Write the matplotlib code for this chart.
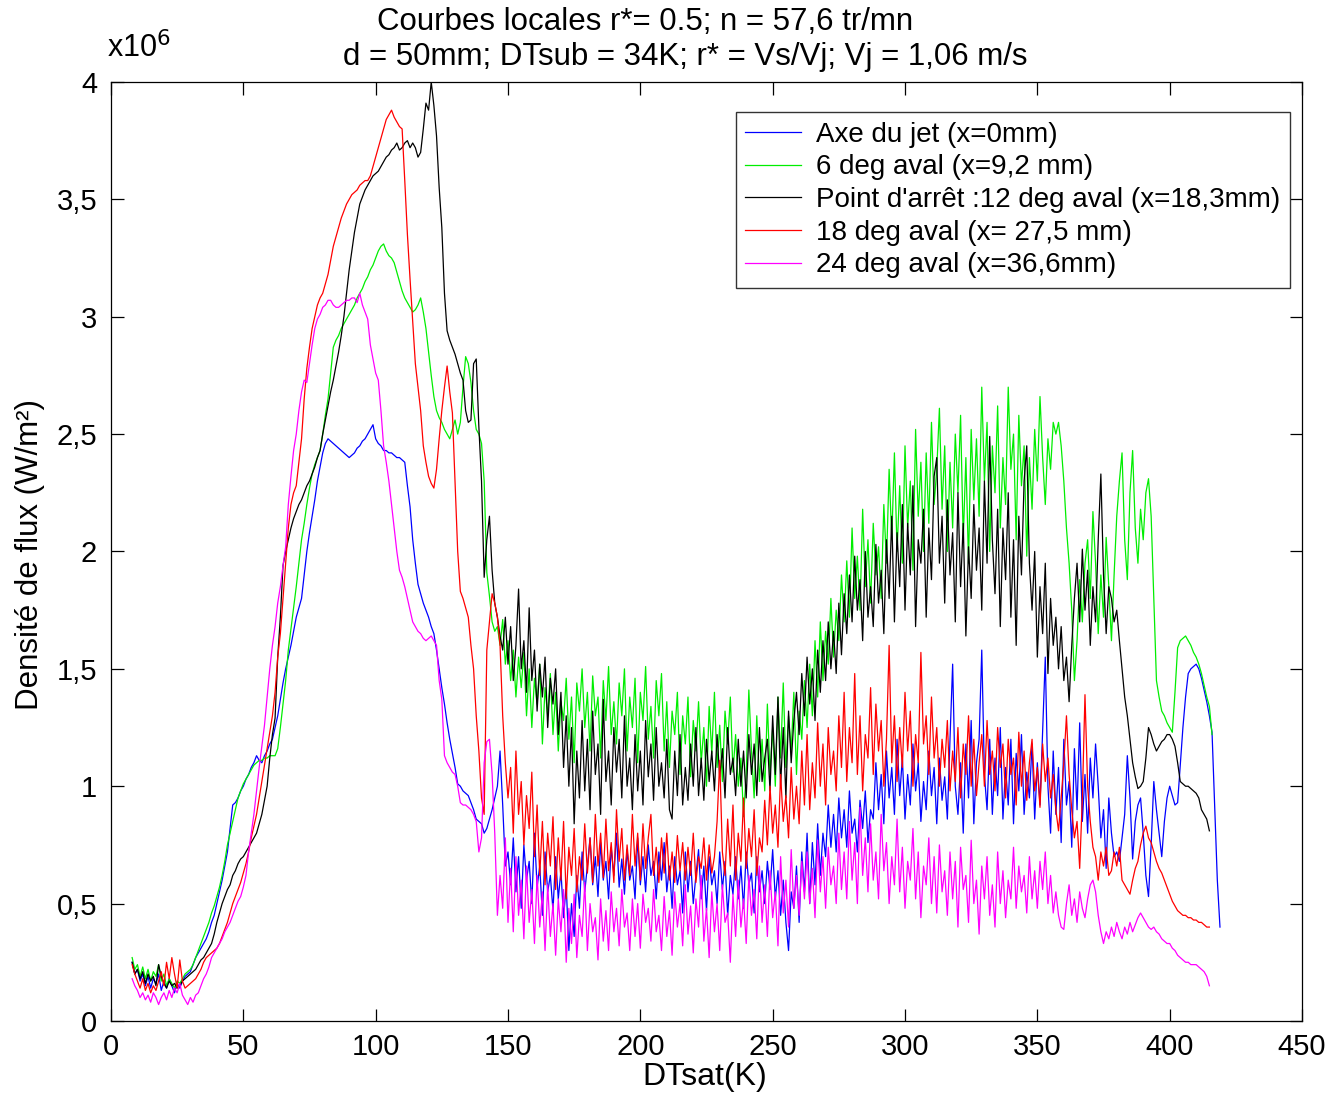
from matplotlib import pyplot as plt
import numpy as np

# Heat flux density (x10^6 W/m2) sampled every 1 K of wall superheat, starting at DTsat = 8 K
x_start = 8

blue = [
    0.25, 0.20, 0.22, 0.17, 0.20, 0.15, 0.19, 0.14, 0.18, 0.16,
    0.20, 0.13, 0.17, 0.14, 0.18, 0.15, 0.12, 0.16, 0.14, 0.17,
    0.19, 0.20, 0.21, 0.24, 0.27, 0.29, 0.31, 0.33, 0.35, 0.38,
    0.42, 0.45, 0.50, 0.55, 0.60, 0.66, 0.72, 0.82, 0.92, 0.93,
    0.95, 0.98, 1.00, 1.03, 1.05, 1.08, 1.10, 1.13, 1.11, 1.10,
    1.13, 1.15, 1.18, 1.20, 1.25, 1.30, 1.37, 1.44, 1.50, 1.55,
    1.60, 1.66, 1.72, 1.76, 1.80, 1.90, 2.00, 2.08, 2.15, 2.22,
    2.30, 2.36, 2.42, 2.46, 2.48, 2.47, 2.46, 2.45, 2.44, 2.43,
    2.42, 2.41, 2.40, 2.41, 2.42, 2.44, 2.45, 2.47, 2.48, 2.50,
    2.52, 2.54, 2.48, 2.46, 2.45, 2.43, 2.43, 2.42, 2.42, 2.41,
    2.40, 2.40, 2.39, 2.38, 2.28, 2.19, 2.05, 1.95, 1.86, 1.82,
    1.78, 1.75, 1.72, 1.68, 1.65, 1.58, 1.50, 1.42, 1.35, 1.27,
    1.20, 1.14, 1.08, 1.01, 1.00, 0.98, 0.97, 0.96, 0.93, 0.90,
    0.86, 0.85, 0.84, 0.80, 0.82, 0.86, 0.90, 0.95, 1.00, 1.15,
    0.92, 0.66, 0.72, 0.58, 0.78, 0.55, 0.70, 0.48, 0.75, 0.60,
    0.68, 0.50, 0.80, 0.57, 0.66, 0.45, 0.72, 0.55, 0.62, 0.47,
    0.70, 0.52, 0.64, 0.44, 0.58, 0.30, 0.50, 0.36, 0.62, 0.48,
    0.72, 0.55, 0.66, 0.78, 0.58, 0.70, 0.53, 0.76, 0.60, 0.68,
    0.52, 0.74, 0.62, 0.80, 0.57, 0.69, 0.54, 0.73, 0.60, 0.66,
    0.52, 0.78, 0.58, 0.70, 0.55, 0.75, 0.62, 0.68, 0.52, 0.72,
    0.60, 0.76, 0.55, 0.66, 0.48, 0.70, 0.58, 0.64, 0.46, 0.72,
    0.55, 0.68, 0.50, 0.62, 0.73, 0.52, 0.66, 0.47, 0.70, 0.58,
    0.64, 0.50, 0.72, 0.56, 0.68, 0.45, 0.62, 0.54, 0.70, 0.52,
    0.66, 0.48, 0.72, 0.58, 0.63, 0.46, 0.70, 0.55, 0.64, 0.50,
    0.68, 0.56, 0.73, 0.52, 0.64, 0.45, 0.60, 0.42, 0.30, 0.55,
    0.48, 0.66, 0.42, 0.72, 0.55, 0.80, 0.50, 0.76, 0.58, 0.84,
    0.62, 0.80, 0.70, 0.92, 0.74, 0.88, 0.72, 0.95, 0.78, 0.90,
    0.74, 0.98, 0.80, 0.86, 0.72, 0.94, 0.82, 0.98, 0.76, 0.90,
    0.86, 1.10, 0.90, 1.05, 0.84, 1.15, 0.95, 1.08, 0.88, 1.20,
    0.96, 1.12, 0.86, 1.05, 0.92, 1.18, 0.98, 1.10, 0.85, 1.02,
    0.90, 1.15, 0.96, 1.08, 0.84, 1.12, 0.94, 1.04, 0.86, 1.20,
    1.52, 1.00, 0.88, 1.10, 0.80, 1.18, 0.95, 1.28, 0.84, 1.10,
    1.20, 1.58, 1.05, 0.90, 1.20, 0.88, 1.12, 0.96, 1.25, 0.86,
    1.08, 0.92, 1.20, 0.84, 1.14, 0.98, 1.22, 0.88, 1.06, 0.95,
    1.18, 0.86, 1.10, 0.92, 1.24, 1.55, 1.00, 0.80, 1.15, 0.88,
    1.08, 0.76, 1.20, 0.92, 1.02, 0.74, 1.16, 0.90, 1.27, 0.85,
    1.05, 0.80, 1.12, 0.95, 1.18, 1.00, 0.78, 0.90, 0.65, 0.95,
    0.80, 0.70, 0.72, 0.68, 0.78, 0.88, 1.13, 0.95, 0.69, 0.85,
    0.92, 0.95, 0.80, 0.62, 0.53, 0.75, 1.02, 0.90, 0.80, 0.70,
    0.85, 0.95, 1.00, 0.96, 0.92, 0.93, 1.09, 1.25, 1.38, 1.48,
    1.50, 1.51, 1.52, 1.50, 1.46, 1.41, 1.36, 1.30, 1.23, 0.92,
    0.60, 0.40,
]

green = [
    0.27, 0.22, 0.24, 0.19, 0.23, 0.18, 0.22, 0.17, 0.21, 0.19,
    0.24, 0.17, 0.20, 0.15, 0.18, 0.16, 0.14, 0.17, 0.16, 0.18,
    0.20, 0.21, 0.22, 0.24, 0.27, 0.30, 0.33, 0.36, 0.39, 0.42,
    0.46, 0.49, 0.53, 0.57, 0.62, 0.68, 0.75, 0.80, 0.85, 0.90,
    0.95, 0.98, 1.01, 1.03, 1.05, 1.07, 1.09, 1.10, 1.11, 1.11,
    1.12, 1.12, 1.13, 1.13, 1.13, 1.16, 1.25, 1.35, 1.45, 1.58,
    1.67, 1.76, 1.85, 1.95, 2.05, 2.12, 2.20, 2.27, 2.33, 2.37,
    2.40, 2.43, 2.50, 2.58, 2.65, 2.76, 2.87, 2.90, 2.92, 2.95,
    2.97, 2.99, 3.01, 3.03, 3.05, 3.08, 3.10, 3.12, 3.15, 3.17,
    3.20, 3.22, 3.25, 3.28, 3.30, 3.31, 3.28, 3.26, 3.25, 3.23,
    3.19, 3.15, 3.11, 3.08, 3.06, 3.04, 3.02, 3.03, 3.05, 3.08,
    3.02, 2.95, 2.85, 2.75, 2.66, 2.60, 2.57, 2.55, 2.52, 2.50,
    2.48, 2.52, 2.56, 2.50, 2.55, 2.70, 2.83, 2.80, 2.72, 2.60,
    2.52, 2.50, 2.46, 2.30, 1.91, 1.81, 1.70, 1.66, 1.68, 1.60,
    1.71, 1.52, 1.62, 1.45, 1.58, 1.38, 1.55, 1.42, 1.57, 1.30,
    1.50, 1.25, 1.46, 1.35, 1.52, 1.18, 1.42, 1.30, 1.48, 1.22,
    1.40, 1.15, 1.36, 1.28, 1.46, 1.20, 1.38, 1.10, 1.44, 1.32,
    1.50, 1.25, 1.40, 1.15, 1.47, 1.30, 1.38, 1.12, 1.45, 1.28,
    1.51, 1.22, 1.36, 1.18, 1.44, 1.30, 1.50, 1.15, 1.38, 1.25,
    1.46, 1.10, 1.40, 1.28, 1.51, 1.20, 1.34, 1.12, 1.45, 1.30,
    1.48, 1.15, 1.36, 1.08, 1.32, 1.22, 1.40, 1.05, 1.30, 1.18,
    1.38, 1.04, 1.28, 1.15, 1.36, 1.10, 1.25, 1.00, 1.34, 1.14,
    1.40, 1.08, 1.26, 1.02, 1.32, 1.18, 1.38, 1.06, 1.22, 1.00,
    1.12, 0.87, 1.05, 1.41, 1.15, 0.95, 1.30, 1.02, 1.20, 0.98,
    1.35, 1.05, 1.25, 1.00, 1.38, 1.12, 1.44, 1.08, 1.30, 1.15,
    1.40, 1.05, 1.32, 1.20, 1.45, 1.25, 1.52, 1.30, 1.62, 1.38,
    1.70, 1.45, 1.66, 1.52, 1.80, 1.55, 1.75, 1.62, 1.90, 1.70,
    1.96, 1.72, 2.10, 1.80, 1.98, 1.75, 2.18, 1.85, 2.05, 1.78,
    2.12, 1.90, 2.02, 1.80, 2.20, 1.95, 2.35, 2.05, 2.42, 2.00,
    2.28, 1.95, 2.45, 2.10, 2.30, 1.92, 2.52, 2.15, 2.38, 2.00,
    2.42, 2.12, 2.55, 2.20, 2.35, 2.61, 2.18, 2.45, 2.00, 2.38,
    2.10, 2.50, 2.25, 2.58, 2.05, 2.40, 1.95, 2.52, 2.22, 2.48,
    2.15, 2.70, 2.30, 2.55, 2.00, 2.45, 2.25, 2.62, 2.10, 2.40,
    2.20, 2.70, 2.35, 2.50, 2.05, 2.58, 2.28, 2.45, 1.98, 2.40,
    2.18, 2.52, 2.30, 2.66, 2.40, 2.20, 2.48, 2.35, 2.55, 2.50,
    2.55, 2.45, 2.30, 2.10, 1.95, 1.75, 1.45, 1.62, 1.88, 1.70,
    1.95, 2.05, 1.80, 2.17, 1.95, 1.65, 1.90, 1.72, 2.06, 1.85,
    1.62, 1.90, 2.15, 2.30, 2.42, 2.05, 1.88, 2.25, 2.43, 2.10,
    1.95, 2.18, 2.05, 2.25, 2.31, 2.15, 1.80, 1.45, 1.38, 1.32,
    1.30, 1.27, 1.25, 1.23, 1.40, 1.59, 1.62, 1.63, 1.64, 1.62,
    1.60, 1.57, 1.55, 1.52, 1.48, 1.43, 1.38, 1.34, 1.22,
]

black = [
    0.25, 0.20, 0.22, 0.18, 0.21, 0.16, 0.20, 0.17, 0.19, 0.15,
    0.24, 0.19, 0.16, 0.14, 0.17, 0.15, 0.16, 0.14, 0.15, 0.17,
    0.18, 0.19, 0.20, 0.21, 0.22, 0.24, 0.26, 0.27, 0.29, 0.31,
    0.33, 0.37, 0.42, 0.46, 0.50, 0.53, 0.56, 0.58, 0.62, 0.64,
    0.67, 0.69, 0.70, 0.72, 0.74, 0.76, 0.78, 0.80, 0.84, 0.88,
    0.94, 1.00, 1.12, 1.22, 1.29, 1.55, 1.72, 1.94, 2.00, 2.05,
    2.10, 2.14, 2.17, 2.20, 2.22, 2.25, 2.28, 2.30, 2.33, 2.36,
    2.40, 2.43, 2.50, 2.56, 2.62, 2.68, 2.73, 2.79, 2.85, 2.92,
    3.00, 3.10, 3.20, 3.28, 3.36, 3.42, 3.48, 3.51, 3.54, 3.56,
    3.58, 3.60, 3.61, 3.62, 3.64, 3.66, 3.68, 3.69, 3.71, 3.72,
    3.74, 3.71, 3.72, 3.74, 3.75, 3.72, 3.74, 3.72, 3.68, 3.70,
    3.80, 3.91, 3.88, 4.00, 3.90, 3.77, 3.55, 3.38, 3.10, 2.94,
    2.90, 2.87, 2.84, 2.80, 2.76, 2.73, 2.60, 2.55, 2.56, 2.80,
    2.82, 2.53, 2.30, 1.89, 2.05, 2.15, 1.92, 1.78, 1.72, 1.64,
    1.58, 1.72, 1.52, 1.68, 1.45, 1.60, 1.84, 1.50, 1.62, 1.40,
    1.76, 1.45, 1.58, 1.32, 1.52, 1.38, 1.55, 1.25, 1.46, 1.35,
    1.50, 1.22, 1.40, 1.08, 1.30, 1.00, 1.25, 0.84, 1.15, 0.95,
    1.28, 0.98, 1.20, 0.90, 1.32, 1.05, 1.18, 0.88, 1.37, 1.02,
    1.15, 0.92, 1.25, 1.06, 1.20, 0.95, 1.30, 1.00, 1.12, 0.90,
    1.22, 0.98, 1.15, 0.92, 1.28, 1.04, 1.18, 0.94, 1.25, 1.00,
    1.10, 0.95, 1.20, 0.90, 0.86, 1.15, 0.96, 1.22, 0.92, 1.08,
    0.94, 1.18, 1.00, 1.25, 0.96, 1.12, 0.94, 1.20, 1.02, 1.15,
    0.98, 1.22, 1.04, 1.16, 0.95, 1.25, 1.05, 1.12, 0.96, 1.20,
    1.00, 1.15, 0.95, 1.22, 1.05, 1.18, 0.96, 1.25, 1.02, 1.12,
    1.20, 0.98, 1.30, 1.05, 1.38, 1.00, 1.25, 0.95, 1.32, 1.10,
    1.28, 1.40, 1.22, 1.48, 1.30, 1.55, 1.35, 1.50, 1.28, 1.58,
    1.40, 1.62, 1.45, 1.70, 1.50, 1.66, 1.48, 1.78, 1.56, 1.82,
    1.65, 1.90, 1.70, 1.98, 1.75, 1.88, 1.62, 2.00, 1.72, 1.85,
    1.68, 2.03, 1.78, 1.92, 1.65, 2.05, 1.80, 2.15, 1.70, 2.08,
    1.85, 2.20, 1.75, 2.12, 1.90, 2.28, 1.68, 2.05, 1.95, 2.18,
    1.72, 2.10, 1.88, 2.32, 2.40, 1.95, 2.15, 1.78, 2.22, 1.90,
    2.08, 1.70, 2.25, 1.85, 2.12, 1.64, 2.02, 1.80, 2.20, 1.92,
    2.10, 1.75, 2.30, 1.95, 2.49, 2.05, 1.82, 2.18, 1.68, 2.10,
    1.88, 2.25, 1.72, 2.05, 1.60, 2.15, 1.90, 2.30, 2.45, 1.95,
    1.75, 2.00, 1.55, 1.85, 1.65, 1.95, 1.48, 1.80, 1.60, 1.72,
    1.50, 1.68, 1.45, 1.55, 1.36, 1.60, 1.80, 1.95, 1.70, 2.01,
    1.75, 1.92, 1.60, 1.85, 1.70, 2.05, 2.33, 1.90, 1.65, 1.85,
    1.80, 1.70, 1.75, 1.62, 1.50, 1.38, 1.30, 1.20, 1.10, 1.04,
    0.99, 1.00, 1.02, 1.12, 1.25, 1.22, 1.18, 1.15, 1.17, 1.19,
    1.20, 1.22, 1.22, 1.20, 1.17, 1.10, 1.02, 1.01, 1.00, 1.00,
    0.99, 0.98, 0.97, 0.95, 0.90, 0.88, 0.86, 0.81,
]

red = [
    0.24, 0.20, 0.17, 0.14, 0.18, 0.13, 0.16, 0.12, 0.15, 0.13,
    0.17, 0.21, 0.15, 0.25, 0.18, 0.27, 0.20, 0.14, 0.26, 0.17,
    0.14, 0.15, 0.16, 0.17, 0.18, 0.20, 0.22, 0.25, 0.27, 0.28,
    0.29, 0.30, 0.31, 0.33, 0.36, 0.39, 0.42, 0.46, 0.50, 0.53,
    0.56, 0.59, 0.63, 0.67, 0.72, 0.78, 0.83, 0.88, 0.95, 1.02,
    1.09, 1.16, 1.23, 1.30, 1.40, 1.55, 1.65, 1.80, 1.95, 2.10,
    2.20, 2.25, 2.28, 2.38, 2.48, 2.65, 2.78, 2.87, 2.95, 3.00,
    3.05, 3.08, 3.10, 3.14, 3.18, 3.24, 3.30, 3.34, 3.38, 3.42,
    3.45, 3.48, 3.50, 3.52, 3.53, 3.54, 3.56, 3.57, 3.58, 3.58,
    3.60, 3.64, 3.68, 3.72, 3.76, 3.80, 3.84, 3.86, 3.88, 3.85,
    3.83, 3.81, 3.80, 3.58, 3.35, 3.16, 2.98, 2.80, 2.70, 2.60,
    2.45, 2.38, 2.32, 2.29, 2.27, 2.35, 2.48, 2.60, 2.70, 2.79,
    2.68, 2.59, 2.30, 2.00, 1.83, 1.80, 1.76, 1.72, 1.60, 1.50,
    1.30, 1.15, 0.95, 0.88, 1.58, 1.70, 1.82, 1.78, 1.72, 1.60,
    1.30, 1.10, 0.95, 1.08, 0.80, 1.15, 0.88, 1.02, 0.75, 0.96,
    0.82, 1.06, 0.70, 0.92, 0.62, 0.85, 0.58, 0.80, 0.66, 0.87,
    0.56, 0.78, 0.60, 0.85, 0.52, 0.74, 0.62, 0.82, 0.55, 0.70,
    0.60, 0.84, 0.63, 0.78, 0.59, 0.88, 0.66, 0.80, 0.61, 0.86,
    0.64, 0.76, 0.59, 0.90, 0.68, 0.82, 0.60, 0.75, 0.62, 0.88,
    0.66, 0.80, 0.60, 0.84, 0.65, 0.78, 0.88, 0.62, 0.74, 0.59,
    0.78, 0.63, 0.80, 0.60, 0.72, 0.59, 0.79, 0.64, 0.76, 0.60,
    0.74, 0.62, 0.80, 0.59, 0.70, 0.65, 0.78, 0.60, 0.75, 0.63,
    0.70, 0.85, 1.11, 0.72, 0.62, 0.86, 0.66, 0.92, 0.60, 0.80,
    0.68, 0.95, 0.65, 0.82, 0.70, 0.90, 0.62, 0.78, 0.72, 0.94,
    0.75, 1.00, 0.80, 0.92, 0.74, 1.05, 0.85, 0.96, 0.78, 1.08,
    0.86, 1.00, 0.84, 1.15, 0.92, 1.22, 0.90, 1.10, 0.95, 1.27,
    1.00, 1.18, 0.92, 1.25, 1.05, 1.15, 0.98, 1.30, 1.08, 1.40,
    1.02, 1.25, 1.10, 1.48, 1.05, 1.30, 0.98, 1.22, 1.12, 1.42,
    1.05, 1.35, 1.15, 1.28, 1.00, 1.20, 1.60, 1.10, 1.30, 1.02,
    1.25, 1.08, 1.40, 1.15, 1.32, 1.00, 1.22, 1.10, 1.57, 1.18,
    1.30, 1.05, 1.38, 1.12, 1.25, 1.00, 1.20, 1.08, 1.28, 0.98,
    1.15, 1.02, 1.25, 0.95, 1.18, 1.05, 1.30, 1.00, 1.20, 0.96,
    1.10, 1.22, 1.00, 1.28, 1.05, 1.15, 0.98, 1.25, 1.08, 1.18,
    0.95, 1.20, 1.05, 1.12, 0.92, 1.23, 1.00, 1.15, 0.94, 1.10,
    1.20, 0.98, 1.08, 0.91, 1.18, 1.02, 1.12, 0.95, 1.05, 0.90,
    0.81, 0.95, 1.10, 1.30, 1.05, 0.90, 0.78, 0.85, 0.65, 0.95,
    1.39, 1.00, 0.85, 0.74, 0.70, 0.60, 0.72, 0.66, 0.74, 0.62,
    0.64, 0.72, 0.66, 0.74, 0.60, 0.58, 0.56, 0.54, 0.60, 0.65,
    0.68, 0.75, 0.80, 0.83, 0.78, 0.76, 0.72, 0.68, 0.65, 0.63,
    0.60, 0.57, 0.54, 0.51, 0.49, 0.47, 0.46, 0.45, 0.45, 0.44,
    0.44, 0.43, 0.43, 0.42, 0.42, 0.41, 0.40, 0.40,
]

magenta = [
    0.18, 0.15, 0.13, 0.10, 0.12, 0.09, 0.11, 0.08, 0.12, 0.10,
    0.07, 0.10, 0.12, 0.09, 0.13, 0.10, 0.14, 0.12, 0.16, 0.11,
    0.09, 0.07, 0.10, 0.08, 0.11, 0.12, 0.15, 0.18, 0.20, 0.23,
    0.27, 0.29, 0.31, 0.33, 0.35, 0.38, 0.40, 0.42, 0.45, 0.48,
    0.51, 0.53, 0.57, 0.62, 0.72, 0.80, 0.88, 0.98, 1.08, 1.17,
    1.26, 1.38, 1.50, 1.60, 1.68, 1.78, 1.85, 1.94, 2.02, 2.20,
    2.32, 2.43, 2.50, 2.60, 2.68, 2.73, 2.72, 2.80, 2.88, 2.95,
    2.99, 3.01, 3.04, 3.05, 3.07, 3.07, 3.05, 3.04, 3.04, 3.05,
    3.06, 3.07, 3.07, 3.08, 3.08, 3.06, 3.10, 3.05, 3.02, 2.99,
    2.88, 2.82, 2.76, 2.73, 2.60, 2.45, 2.38, 2.30, 2.20, 2.10,
    2.00, 1.92, 1.89, 1.85, 1.80, 1.75, 1.70, 1.68, 1.66, 1.65,
    1.63, 1.62, 1.63, 1.64, 1.62, 1.60, 1.45, 1.37, 1.13, 1.10,
    1.08, 1.06, 1.05, 1.00, 0.93, 0.92, 0.92, 0.91, 0.90, 0.88,
    0.85, 0.72, 0.78, 1.10, 1.19, 1.20, 1.05, 0.80, 0.45, 0.62,
    0.48, 0.78, 0.42, 0.65, 0.38, 0.70, 0.45, 0.60, 0.35, 0.66,
    0.42, 0.56, 0.33, 0.62, 0.40, 0.55, 0.30, 0.58, 0.36, 0.50,
    0.28, 0.52, 0.38, 0.56, 0.25, 0.48, 0.33, 0.54, 0.27, 0.45,
    0.36, 0.59, 0.30, 0.50, 0.38, 0.44, 0.26, 0.52, 0.34, 0.47,
    0.30, 0.55, 0.38, 0.48, 0.32, 0.56, 0.40, 0.46, 0.30, 0.52,
    0.36, 0.50, 0.31, 0.54, 0.42, 0.48, 0.34, 0.56, 0.38, 0.45,
    0.30, 0.53, 0.36, 0.47, 0.28, 0.55, 0.40, 0.50, 0.32, 0.58,
    0.37, 0.49, 0.29, 0.52, 0.40, 0.62, 0.34, 0.48, 0.27, 0.55,
    0.38, 0.50, 0.30, 0.58, 0.42, 0.46, 0.25, 0.54, 0.36, 0.60,
    0.40, 0.52, 0.33, 0.62, 0.45, 0.56, 0.35, 0.66, 0.42, 0.58,
    0.36, 0.64, 0.44, 0.55, 0.32, 0.70, 0.46, 0.60, 0.40, 0.73,
    0.48, 0.62, 0.45, 0.68, 0.52, 0.72, 0.50, 0.65, 0.44, 0.77,
    0.55, 0.70, 0.48, 0.74, 0.58, 0.66, 0.50, 0.80, 0.56, 0.72,
    0.52, 0.85, 0.60, 0.76, 0.50, 0.91, 0.62, 0.78, 0.55, 0.84,
    0.60, 0.72, 0.52, 0.88, 0.64, 0.76, 0.50, 0.70, 0.58, 0.86,
    0.55, 0.74, 0.48, 0.68, 0.60, 0.82, 0.52, 0.72, 0.44, 0.66,
    0.58, 0.78, 0.50, 0.70, 0.46, 0.75, 0.55, 0.64, 0.45, 0.72,
    0.52, 0.68, 0.40, 0.74, 0.56, 0.62, 0.42, 0.77, 0.50, 0.60,
    0.37, 0.66, 0.52, 0.70, 0.45, 0.58, 0.40, 0.72, 0.50, 0.64,
    0.44, 0.60, 0.52, 0.74, 0.48, 0.66, 0.55, 0.62, 0.46, 0.70,
    0.52, 0.64, 0.48, 0.68, 0.56, 0.72, 0.50, 0.62, 0.46, 0.55,
    0.45, 0.40, 0.39, 0.50, 0.58, 0.45, 0.52, 0.42, 0.55, 0.48,
    0.44, 0.52, 0.58, 0.60, 0.55, 0.45, 0.38, 0.33, 0.38, 0.35,
    0.40, 0.36, 0.42, 0.38, 0.35, 0.40, 0.37, 0.42, 0.38, 0.41,
    0.44, 0.46, 0.44, 0.42, 0.40, 0.39, 0.40, 0.38, 0.37, 0.35,
    0.34, 0.33, 0.33, 0.31, 0.30, 0.28, 0.27, 0.26, 0.25, 0.25,
    0.24, 0.24, 0.24, 0.23, 0.22, 0.21, 0.19, 0.15,
]

legends = ['Axe du jet (x=0mm)', '6 deg aval (x=9,2 mm)',
           "Point d'arrêt :12 deg aval (x=18,3mm)",
           '18 deg aval (x= 27,5 mm)', '24 deg aval (x=36,6mm)']
colors = ['#0000ff', '#00ee00', '#000000', '#ff0000', '#ff00ff']
yticks = [0, 0.5, 1, 1.5, 2, 2.5, 3, 3.5, 4]
ytick_labels = ['0', '0,5', '1', '1,5', '2', '2,5', '3', '3,5', '4']
xticks = [0, 50, 100, 150, 200, 250, 300, 350, 400, 450]

plt.rcParams['font.family'] = ['Liberation Sans', 'DejaVu Sans']

fig = plt.figure(figsize=(13.29, 10.93), dpi=100)
ax = fig.add_axes([0.0835, 0.0659, 0.8962, 0.8591])

for values, color, label in zip([blue, green, black, red, magenta], colors, legends):
    x = x_start + np.arange(len(values))
    ax.plot(x, values, color=color, lw=0.9, label=label)

ax.set_xlim(0, 450)
ax.set_ylim(0, 4)
ax.set_xticks(xticks)
ax.set_yticks(yticks)
ax.set_yticklabels(ytick_labels)
ax.tick_params(direction='in', length=9, width=0.9, top=True, right=True,
               labelsize=21)
ax.tick_params(axis='x', pad=9)
ax.tick_params(axis='y', pad=10)
for spine in ax.spines.values():
    spine.set_linewidth(0.9)

leg = ax.legend(loc='upper right', bbox_to_anchor=(0.99, 0.968), borderaxespad=0,
                fontsize=20, handlelength=2.0, handletextpad=0.55, labelspacing=0.24,
                fancybox=False, framealpha=1, edgecolor='#333333', borderpad=0.35)
leg.get_frame().set_linewidth(1.0)

# Titles and labels
fig.text(645 / 1329, 1 - 22 / 1093, 'Courbes locales r*= 0.5; n = 57,6 tr/mn',
         ha='center', va='center', fontsize=22.5)
fig.text(685 / 1329, 1 - 57 / 1093, 'd = 50mm; DTsub = 34K; r* = Vs/Vj; Vj = 1,06 m/s',
         ha='center', va='center', fontsize=22.5)
fig.text(107 / 1329, 1 - 48 / 1093, 'x10$^{6}$', ha='left', va='center', fontsize=22)
fig.text(30 / 1329, 1 - 555 / 1093, 'Densité de flux (W/m²)', rotation=90,
         ha='center', va='center', fontsize=22.5)
fig.text(705 / 1329, 1 - 1077 / 1093, 'DTsat(K)', ha='center', va='center', fontsize=23)

plt.savefig('out.png', dpi=100)
